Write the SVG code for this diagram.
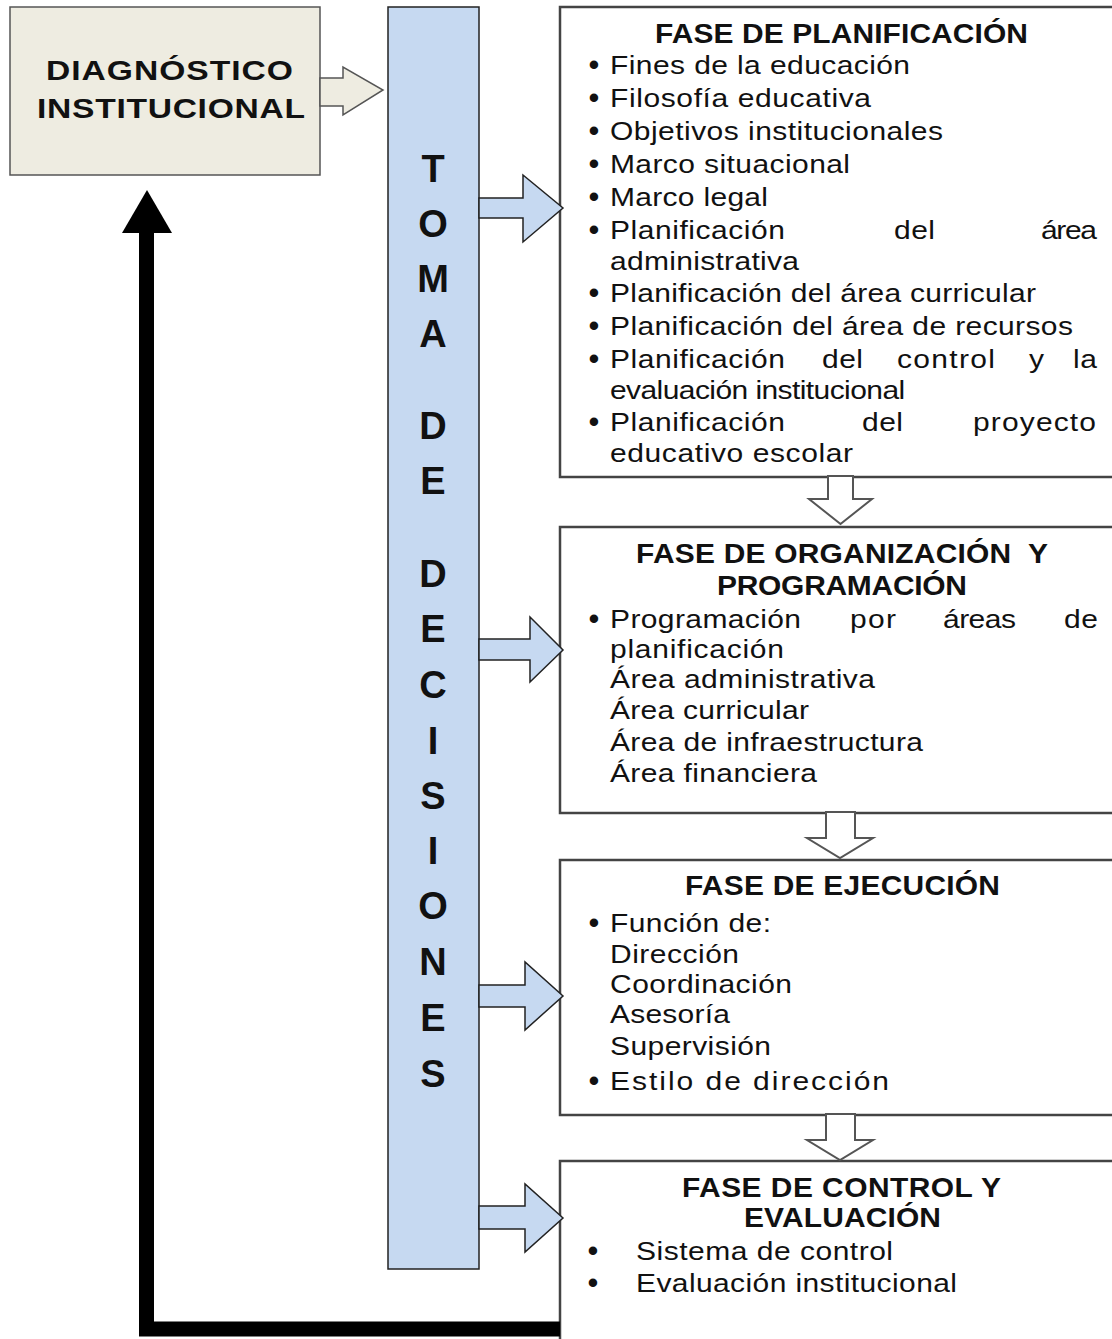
<svg xmlns="http://www.w3.org/2000/svg" width="1112" height="1339" viewBox="0 0 1112 1339">
  <style>
    .txt { font-family: "Liberation Sans", Arial, sans-serif; fill: #111; }
    .head { font-weight: bold; font-size: 28px; text-anchor: middle; }
    .item { font-size: 25px; }
    .bul { font-size: 31px; text-anchor: middle; }
    .col { font-weight: bold; font-size: 38px; text-anchor: middle; }
    .phase { fill: #fff; stroke: #444; stroke-width: 2.5; }
    .blue { fill: #C6D9F1; stroke: #222; stroke-width: 1.5; stroke-linejoin: miter; }
    .tan { fill: #EEECE1; stroke: #555; stroke-width: 1.5; }
    .hollow { fill: #fff; stroke: #555; stroke-width: 2; stroke-linejoin: miter; }
  </style>

  <!-- Diagnóstico institucional (text drawn 1.2x wide) -->
  <g id="diagnostico">
    <rect class="tan" x="10" y="7" width="310" height="168" stroke="#333" stroke-width="2"/>
    <g transform="scale(1.2 1)">
      <text class="txt head" x="141.25" y="80" textLength="205.8">DIAGNÓSTICO</text>
      <text class="txt head" x="142.5" y="118" textLength="223.3">INSTITUCIONAL</text>
    </g>
  </g>

  <!-- Toma de decisiones column -->
  <g id="toma-decisiones">
    <rect class="blue" x="388" y="7" width="91" height="1262" stroke-width="2"/>
    <text class="txt col" x="433" y="182">T</text>
    <text class="txt col" x="433" y="237">O</text>
    <text class="txt col" x="433" y="292">M</text>
    <text class="txt col" x="433" y="347">A</text>
    <text class="txt col" x="433" y="439">D</text>
    <text class="txt col" x="433" y="494">E</text>
    <text class="txt col" x="433" y="587">D</text>
    <text class="txt col" x="433" y="642">E</text>
    <text class="txt col" x="433" y="698">C</text>
    <text class="txt col" x="433" y="754">I</text>
    <text class="txt col" x="433" y="809">S</text>
    <text class="txt col" x="433" y="864">I</text>
    <text class="txt col" x="433" y="919">O</text>
    <text class="txt col" x="433" y="975">N</text>
    <text class="txt col" x="433" y="1031">E</text>
    <text class="txt col" x="433" y="1087">S</text>
  </g>

  <!-- Fase de planificación -->
  <g id="fase-planificacion">
    <rect class="phase" x="560" y="7" width="570" height="470"/>
    <g transform="scale(1.07 1)">
      <text class="txt head" x="786.45" y="43" textLength="348.6">FASE DE PLANIFICACIÓN</text>
    </g>
    <text class="txt bul" x="594" y="75">•</text>
    <text class="txt bul" x="594" y="108">•</text>
    <text class="txt bul" x="594" y="141">•</text>
    <text class="txt bul" x="594" y="174">•</text>
    <text class="txt bul" x="594" y="207">•</text>
    <text class="txt bul" x="594" y="240">•</text>
    <text class="txt bul" x="594" y="303">•</text>
    <text class="txt bul" x="594" y="336">•</text>
    <text class="txt bul" x="594" y="369">•</text>
    <text class="txt bul" x="594" y="432">•</text>
    <g transform="scale(1.2 1)">
      <text class="txt item" x="508.33" y="74" textLength="250">Fines de la educación</text>
      <text class="txt item" x="508.33" y="107" textLength="217.5">Filosofía educativa</text>
      <text class="txt item" x="508.33" y="140" textLength="277.5">Objetivos institucionales</text>
      <text class="txt item" x="508.33" y="173" textLength="200">Marco situacional</text>
      <text class="txt item" x="508.33" y="206" textLength="131.7">Marco legal</text>
      <text class="txt item" x="508.33" y="239" textLength="145.8">Planificación</text>
      <text class="txt item" x="745" y="239" textLength="34.2">del</text>
      <text class="txt item" x="867.5" y="239" textLength="46.7">área</text>
      <text class="txt item" x="508.33" y="270" textLength="157.5">administrativa</text>
      <text class="txt item" x="508.33" y="302" textLength="355">Planificación del área curricular</text>
      <text class="txt item" x="508.33" y="335" textLength="385.8">Planificación del área de recursos</text>
      <text class="txt item" x="508.33" y="368" textLength="145.8">Planificación</text>
      <text class="txt item" x="685" y="368" textLength="34.2">del</text>
      <text class="txt item" x="747.5" y="368" textLength="81.7">control</text>
      <text class="txt item" x="857.5" y="368" textLength="11.7">y</text>
      <text class="txt item" x="894.17" y="368" textLength="20">la</text>
      <text class="txt item" x="508.33" y="399" textLength="246">evaluación institucional</text>
      <text class="txt item" x="508.33" y="431" textLength="145.8">Planificación</text>
      <text class="txt item" x="718.33" y="431" textLength="34.2">del</text>
      <text class="txt item" x="810.83" y="431" textLength="102.5">proyecto</text>
      <text class="txt item" x="508.33" y="462" textLength="202.5">educativo escolar</text>
    </g>
  </g>

  <!-- Fase de organización y programación -->
  <g id="fase-organizacion">
    <rect class="phase" x="560" y="527" width="570" height="286"/>
    <g transform="scale(1.07 1)">
      <text class="txt head" x="786.92" y="563" textLength="385" xml:space="preserve">FASE DE ORGANIZACIÓN  Y</text>
      <text class="txt head" x="786.92" y="595" textLength="233.6">PROGRAMACIÓN</text>
    </g>
    <text class="txt bul" x="594" y="629">•</text>
    <g transform="scale(1.2 1)">
      <text class="txt item" x="508.33" y="628" textLength="159.2">Programación</text>
      <text class="txt item" x="708.33" y="628" textLength="38.3">por</text>
      <text class="txt item" x="785.83" y="628" textLength="60.8">áreas</text>
      <text class="txt item" x="886.67" y="628" textLength="28.3">de</text>
      <text class="txt item" x="508.33" y="658" textLength="145">planificación</text>
      <text class="txt item" x="508.33" y="688" textLength="220.8">Área administrativa</text>
      <text class="txt item" x="508.33" y="719" textLength="165.8">Área curricular</text>
      <text class="txt item" x="508.33" y="751" textLength="260.8">Área de infraestructura</text>
      <text class="txt item" x="508.33" y="782" textLength="172.5">Área financiera</text>
    </g>
  </g>

  <!-- Fase de ejecución -->
  <g id="fase-ejecucion">
    <rect class="phase" x="560" y="860" width="570" height="255"/>
    <g transform="scale(1.07 1)">
      <text class="txt head" x="787.38" y="895" textLength="294.4">FASE DE EJECUCIÓN</text>
    </g>
    <text class="txt bul" x="594" y="933">•</text>
    <text class="txt bul" x="594" y="1091">•</text>
    <g transform="scale(1.2 1)">
      <text class="txt item" x="508.33" y="932" textLength="134.2">Función de:</text>
      <text class="txt item" x="508.33" y="963" textLength="107.5">Dirección</text>
      <text class="txt item" x="508.33" y="993" textLength="151.7">Coordinación</text>
      <text class="txt item" x="508.33" y="1023" textLength="100">Asesoría</text>
      <text class="txt item" x="508.33" y="1055" textLength="134.2">Supervisión</text>
      <text class="txt item" x="508.33" y="1090" textLength="232.5" font-size="28">Estilo de dirección</text>
    </g>
  </g>

  <!-- Fase de control y evaluación -->
  <g id="fase-control">
    <rect class="phase" x="560" y="1161" width="570" height="200"/>
    <g transform="scale(1.07 1)">
      <text class="txt head" x="786.45" y="1197" textLength="298.1">FASE DE CONTROL Y</text>
      <text class="txt head" x="787.38" y="1227" textLength="184.1">EVALUACIÓN</text>
    </g>
    <text class="txt bul" x="593" y="1261">•</text>
    <text class="txt bul" x="593" y="1293">•</text>
    <g transform="scale(1.2 1)">
      <text class="txt item" x="530" y="1260" textLength="214.2">Sistema de control</text>
      <text class="txt item" x="530" y="1292" textLength="267.5">Evaluación institucional</text>
    </g>
  </g>

  <!-- Connectors -->
  <g id="connectors">
    <!-- diagnóstico to toma de decisiones -->
    <polygon class="tan" points="320,78 343,78 343,67 383,90 343,115 343,106 320,106"/>

    <!-- toma de decisiones to each phase -->
    <polygon class="blue" points="479,198 523,198 523,175 563,208 523,242 523,218 479,218"/>
    <polygon class="blue" points="479,639 530,639 530,617 563,650 530,682 530,660 479,660"/>
    <polygon class="blue" points="479,985 525,985 525,962 563,996 525,1030 525,1007 479,1007"/>
    <polygon class="blue" points="479,1206 525,1206 525,1184 563,1218 525,1252 525,1229 479,1229"/>

    <!-- phase to phase -->
    <polygon class="hollow" points="828,476 853,476 853,499 872,499 840.5,524 809,499 828,499"/>
    <polygon class="hollow" points="826,812 855,812 855,838 873,838 840,858 807,838 826,838"/>
    <polygon class="hollow" points="826,1114 855,1114 855,1140 873,1140 840,1160 807,1140 826,1140"/>

    <!-- feedback loop back to diagnóstico -->
    <path d="M560,1329 H146.5 V230" fill="none" stroke="#000" stroke-width="15" stroke-linejoin="miter"/>
    <polygon points="122,233 172,233 147,190" fill="#000"/>
  </g>
</svg>
